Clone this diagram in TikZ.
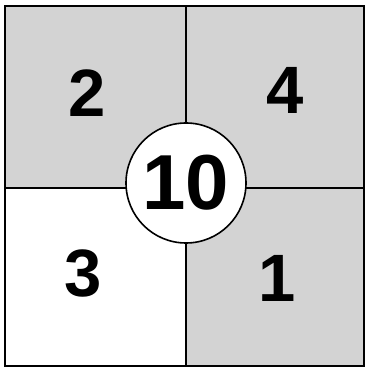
\documentclass[tikz,border=0pt]{standalone}
\usepackage{fontspec}
\setmainfont{Liberation Sans}
\usetikzlibrary{positioning}
\definecolor{shade}{HTML}{D3D3D3}

\begin{document}
\begin{tikzpicture}[x=1pt,y=1pt,
 cell/.style={draw=black,line width=1.6pt,inner sep=0pt,outer sep=0pt},
 digit/.style={font=\fontsize{67}{67}\selectfont\bfseries,inner sep=0pt},
 hub/.style={circle,draw=black,line width=1.6pt,fill=white,minimum size=120pt,inner sep=0pt,
 font=\fontsize{78}{78}\selectfont\bfseries}]
\useasboundingbox (0,0) rectangle (365,369);
\node[cell,fill=shade,minimum width=181pt,minimum height=182pt] (nw) at (95.5,272) {};
\node[cell,fill=shade,minimum width=178pt,minimum height=182pt] (ne) at (275,272) {};
\node[cell,fill=white,minimum width=181pt,minimum height=178pt] (sw) at (95.5,92) {};
\node[cell,fill=shade,minimum width=178pt,minimum height=178pt] (se) at (275,92) {};
\draw[line width=2.4pt] (sw.south west) rectangle (ne.north east);
\node[digit] (two) at (87,276) {2};
\node[digit] (four) at (285,279) {4};
\node[digit] (three) at (83,96) {3};
\node[digit] (one) at (277,91) {1};
\node[hub] (ten) at (186,186) {10};
\end{tikzpicture}
\end{document}
